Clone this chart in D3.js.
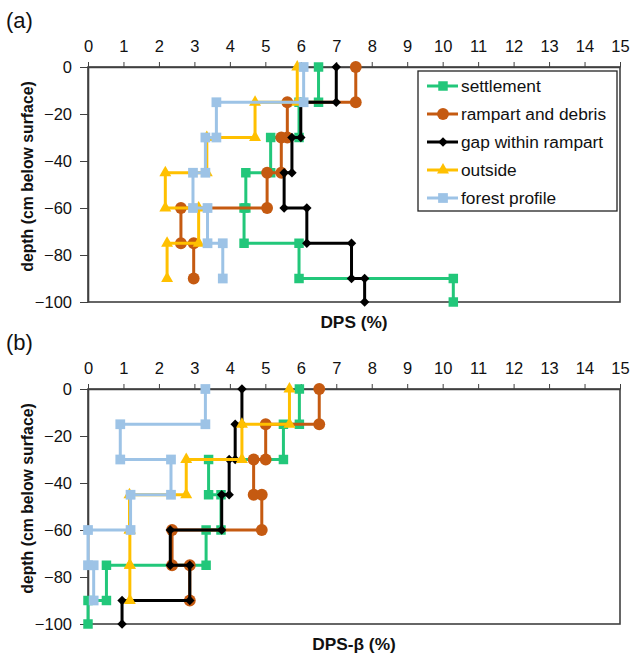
<!DOCTYPE html>
<html><head><meta charset="utf-8">
<script src="https://cdn.jsdelivr.net/npm/d3@7"></script>
<style>body{margin:0;background:#fff}svg{display:block;font-family:"Liberation Sans",Arial,sans-serif}</style>
</head><body>
<svg id="c" width="633" height="654"></svg>
<script>
// layer boundaries (cm below surface)
const depths = [0, 15, 30, 45, 60, 75, 90, 100];
const seriesNames = ["settlement", "rampart and debris", "gap within rampart", "outside", "forest profile"];
const xTicks = [0,1,2,3,4,5,6,7,8,9,10,11,12,13,14,15];
const yTicks = [0,-20,-40,-60,-80,-100];

// Panel (a) DPS values per layer
const dpsSettlement = [6.5, 5.95, 5.15, 4.45, 4.4, 5.95, 10.3];
const dpsRampart    = [7.55, 5.62, 5.45, 5.05, 2.62, 2.98];
const dpsGap        = [7.0, 6.0, 5.75, 5.53, 6.17, 7.43, 7.8];
const dpsOutside    = [5.9, 4.71, 3.35, 2.18, 3.12, 2.23];
const dpsForest     = [6.08, 3.62, 3.31, 2.96, 3.37, 3.8];

// Panel (b) DPS-beta values per layer
const betaSettlement = [5.96, 5.51, 3.4, 3.75, 3.33, 0.52, 0.0];
const betaRampart    = [6.52, 5.01, 4.67, 4.9, 2.37, 2.87];
const betaGap        = [4.34, 4.15, 3.98, 3.77, 2.32, 2.87, 0.96];
const betaOutside    = [5.68, 4.34, 2.77, 1.17, 1.18, 1.18];
const betaForest     = [3.31, 0.91, 2.34, 1.2, 0.0, 0.16];

const colors = ["#22c77a", "#c55a11", "#000000", "#ffc000", "#9dc3e6"];
const markers = [d3.symbolSquare, d3.symbolCircle, d3.symbolSquare, d3.symbolTriangle, d3.symbolSquare];
const markerSize = [90, 110, 45, 62, 95];
const markerRot = [0, 0, 45, 0, 0];

const svg = d3.select("#c");
const axisColor = "#404040";
const FONT = "Liberation Sans, Arial, sans-serif";

function stepPoints(vals){
  const pts = [];
  vals.forEach((v,i)=>{ pts.push([v, -depths[i]]); pts.push([v, -depths[i+1]]); });
  return pts;
}

function panel(top, bottom, data, xTitle, label){
  const x = d3.scaleLinear().domain([0,15]).range([88, 620]);
  const y = d3.scaleLinear().domain([0,-100]).range([top, bottom]);
  const g = svg.append("g");
  // frame
  g.append("rect").attr("x",88).attr("y",top).attr("width",532).attr("height",bottom-top)
    .attr("fill","none").attr("stroke",axisColor).attr("stroke-width",1.6);
  // top axis
  const ax = g.append("g").attr("transform",`translate(0,${top})`)
    .call(d3.axisTop(x).tickValues(xTicks).tickSize(5).tickPadding(10).tickSizeOuter(0));
  ax.select(".domain").attr("stroke",axisColor).attr("stroke-width",1.6);
  ax.selectAll(".tick line").attr("stroke",axisColor).attr("stroke-width",1);
  ax.selectAll("text").attr("font-size",16.5).attr("fill","#111").attr("font-family",FONT);
  // left axis
  const ay = g.append("g").attr("transform",`translate(88,0)`)
    .call(d3.axisLeft(y).tickValues(yTicks).tickSize(8).tickPadding(8).tickSizeOuter(0));
  ay.select(".domain").attr("stroke",axisColor).attr("stroke-width",1.6);
  ay.selectAll(".tick line").attr("stroke",axisColor).attr("stroke-width",1);
  ay.selectAll("text").attr("font-size",16.5).attr("fill","#111").attr("font-family",FONT);
  // titles
  g.append("text").attr("x",354).attr("y",bottom+26).attr("text-anchor","middle")
    .attr("font-size",17.3).attr("font-weight","bold").attr("fill","#111").text(xTitle);
  g.append("text").attr("transform",`translate(33,${(top+bottom)/2 - 8}) rotate(-90)`)
    .attr("text-anchor","middle").attr("font-size",15.8).attr("font-weight","bold").attr("fill","#111")
    .text("depth (cm below surface)");
  g.append("text").attr("x",6).attr("y",top-39).attr("font-size",22).attr("fill","#111").text(label);
  // series
  const line = d3.line().x(d=>x(d[0])).y(d=>y(d[1]));
  data.forEach((vals,si)=>{
    const pts = stepPoints(vals);
    g.append("path").datum(pts).attr("d",line).attr("fill","none")
      .attr("stroke",colors[si]).attr("stroke-width",3);
    g.selectAll(null).data(pts).enter().append("path")
      .attr("d",d3.symbol().type(markers[si]).size(markerSize[si]))
      .attr("transform",d=>`translate(${x(d[0])},${y(d[1])}) rotate(${markerRot[si]})`)
      .attr("fill",colors[si]);
  });
}

panel(67, 302, [dpsSettlement, dpsRampart, dpsGap, dpsOutside, dpsForest], "DPS (%)", "(a)");
panel(389, 624, [betaSettlement, betaRampart, betaGap, betaOutside, betaForest], "DPS-β (%)", "(b)");

// legend (panel a)
const lg = svg.append("g");
lg.append("rect").attr("x",418).attr("y",71).attr("width",199).attr("height",140)
  .attr("fill","#fff").attr("stroke","#222").attr("stroke-width",1.3);
seriesNames.forEach((n,i)=>{
  const yy = 86 + i*28;
  lg.append("line").attr("x1",427).attr("x2",458).attr("y1",yy).attr("y2",yy)
    .attr("stroke",colors[i]).attr("stroke-width",3);
  lg.append("path").attr("d",d3.symbol().type(markers[i]).size(markerSize[i]))
    .attr("transform",`translate(443,${yy}) rotate(${markerRot[i]})`).attr("fill",colors[i]);
  lg.append("text").attr("x",461).attr("y",yy+6).attr("font-size",17.3).attr("fill","#111").text(n);
});
</script>
</body></html>
